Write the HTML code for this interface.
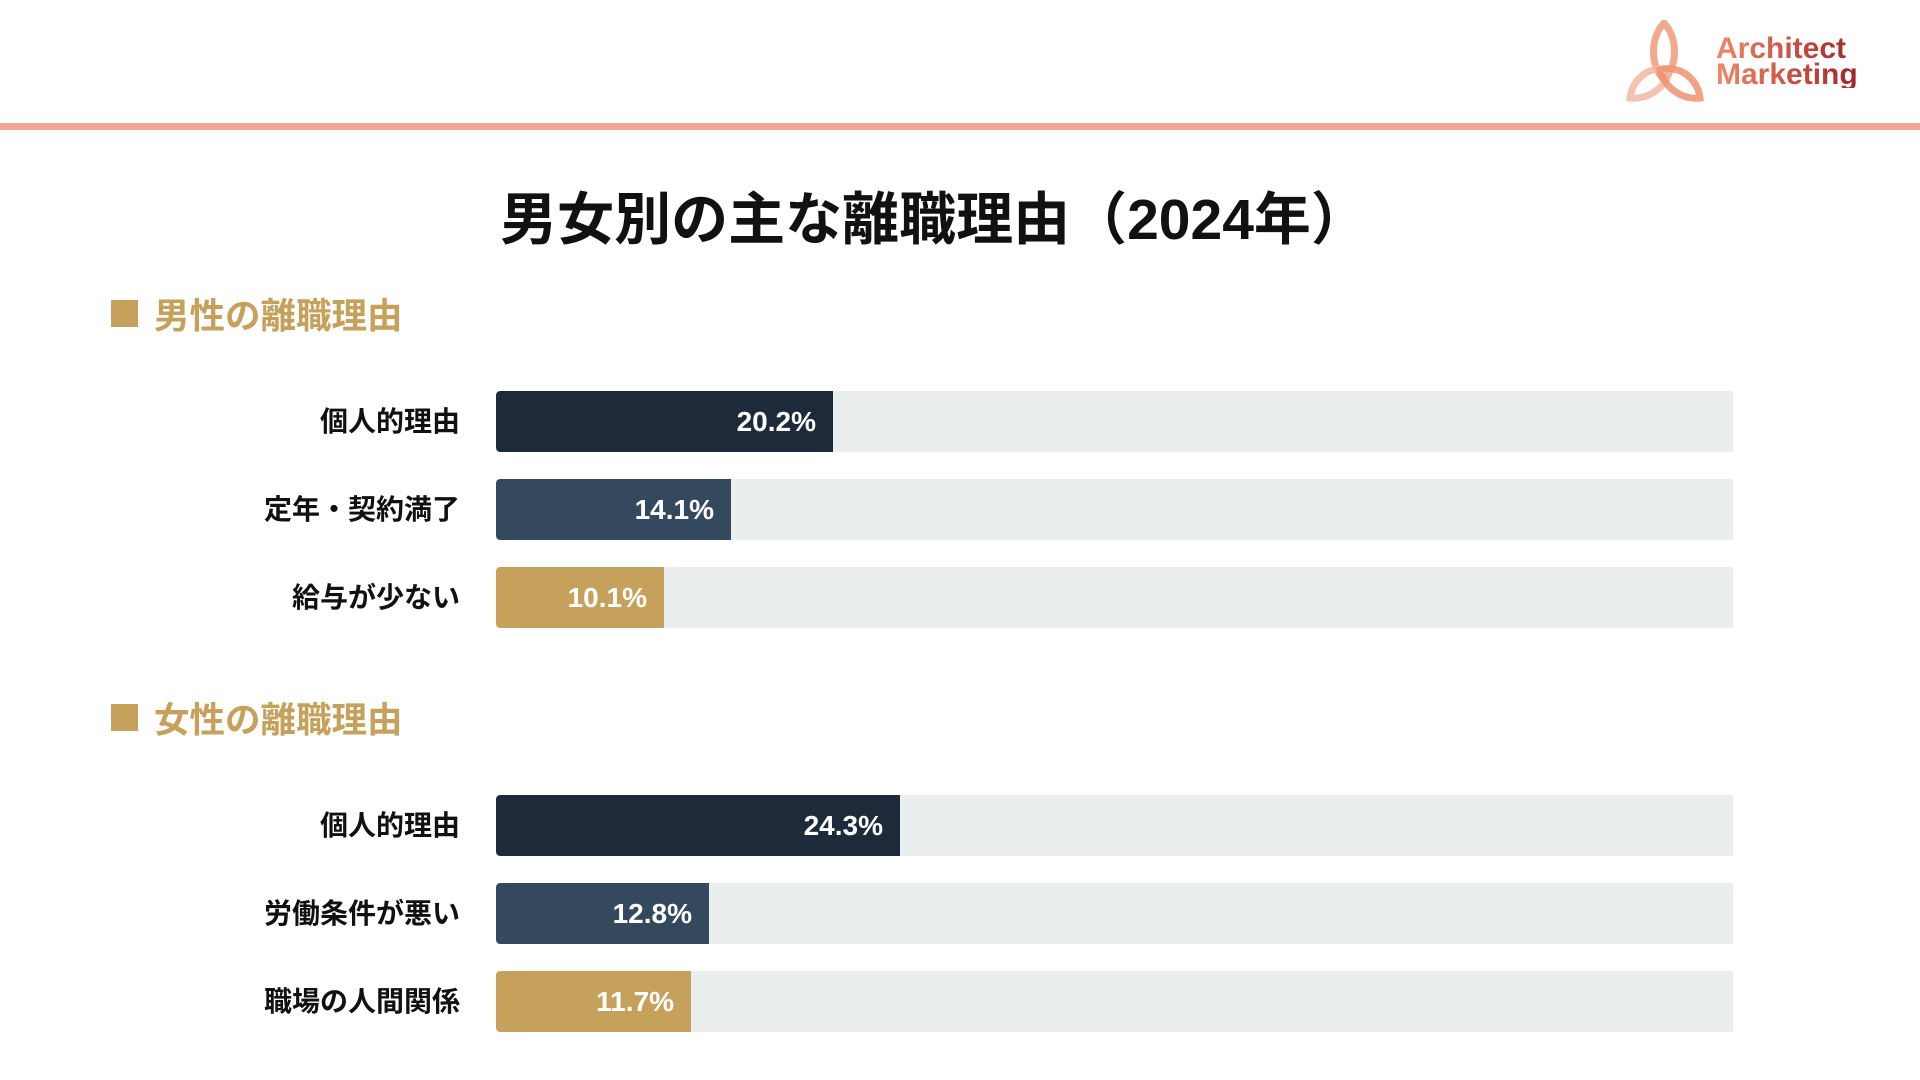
<!DOCTYPE html>
<html><head><meta charset="utf-8"><style>
*{margin:0;padding:0;box-sizing:border-box}
body{width:1920px;height:1080px;background:#fff;position:relative;overflow:hidden;font-family:"Liberation Sans","Noto Sans CJK JP",sans-serif}
.line{position:absolute;left:0;top:123px;width:1920px;height:7px;background:#f4a595}
.title{position:absolute;left:0;width:1868px;top:186px;text-align:center;font-size:57px;font-weight:bold;color:#111;line-height:68px}
.sec{position:absolute;left:111px;height:40px;display:flex;align-items:center;color:#c6a15b;font-weight:bold;font-size:35.5px}
.sec i{display:inline-block;width:27px;height:27px;background:#c6a15b;margin-right:16px}
.lab{position:absolute;right:1460px;font-size:28px;font-weight:bold;color:#111;height:61px;line-height:61px;white-space:nowrap}
.tr{position:absolute;left:496px;width:1237px;height:61px;background:#ebeeee;border-radius:4px 0 0 4px;overflow:hidden}
.f{height:100%;border-radius:4px 0 0 4px;color:#fff;font-weight:bold;font-size:28px;text-align:right;padding-right:17px;line-height:61px}
.d{background:#1e2a3a}.m{background:#35495e}.g{background:#c6a15b}
.logo{position:absolute;left:1716px;top:36px;font-weight:bold;font-size:30px;line-height:26px;background:linear-gradient(90deg,#ee8a68,#c44a3c 60%,#9b2530);-webkit-background-clip:text;color:transparent}
</style></head><body>
<svg style="position:absolute;left:1622px;top:20px" width="86" height="82" viewBox="0 0 86 82">
<path d="M42 3 C28 18 28 45 42 60 C56 45 56 18 42 3Z" fill="none" stroke="#f2a07e" stroke-width="7" opacity=".9"/>
<path d="M8 78 C10 58 30 44 48 50 C44 66 28 80 8 78Z" fill="none" stroke="#f3b6a2" stroke-width="7" opacity=".85"/>
<path d="M78 78 C76 58 56 44 38 50 C42 66 58 80 78 78Z" fill="none" stroke="#ee9270" stroke-width="7" opacity=".85"/>
</svg>
<div class="logo">Architect<br>Marketing</div>
<div class="line"></div>
<div class="title">男女別の主な離職理由（2024年）</div>
<div class="sec" style="top:293px"><i></i>男性の離職理由</div>
<div class="lab" style="top:391px">個人的理由</div>
<div class="tr" style="top:391px"><div class="f d" style="width:337px">20.2%</div></div>
<div class="lab" style="top:479px">定年・契約満了</div>
<div class="tr" style="top:479px"><div class="f m" style="width:235px">14.1%</div></div>
<div class="lab" style="top:567px">給与が少ない</div>
<div class="tr" style="top:567px"><div class="f g" style="width:168px">10.1%</div></div>
<div class="sec" style="top:697px"><i></i>女性の離職理由</div>
<div class="lab" style="top:795px">個人的理由</div>
<div class="tr" style="top:795px"><div class="f d" style="width:404px">24.3%</div></div>
<div class="lab" style="top:883px">労働条件が悪い</div>
<div class="tr" style="top:883px"><div class="f m" style="width:213px">12.8%</div></div>
<div class="lab" style="top:971px">職場の人間関係</div>
<div class="tr" style="top:971px"><div class="f g" style="width:195px">11.7%</div></div>
</body></html>
